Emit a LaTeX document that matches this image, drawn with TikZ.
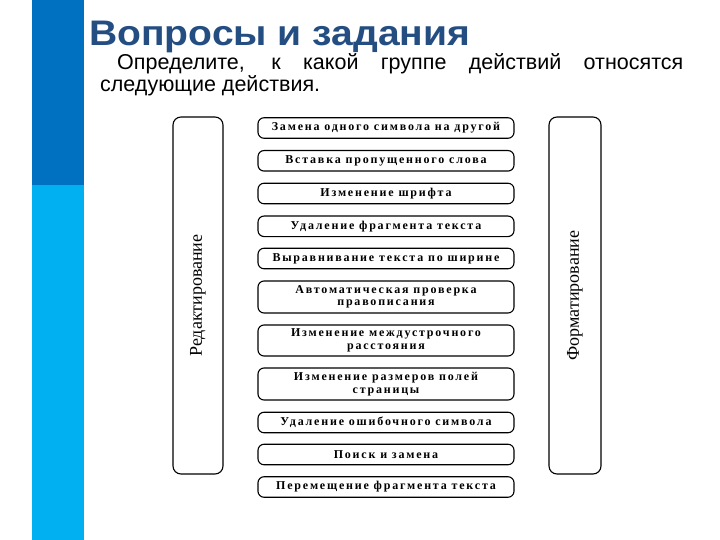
\documentclass[tikz,border=0pt]{standalone}
\usepackage{fontspec}
\setmainfont{Liberation Serif}
\newfontfamily\headfont{Liberation Sans}
\newfontfamily\actfont[LetterSpace=15]{Liberation Serif}
\usetikzlibrary{positioning}
\definecolor{barDark}{RGB}{0,112,192}
\definecolor{barLight}{RGB}{0,176,240}
\definecolor{titleBlue}{RGB}{36,78,130}

\begin{document}
\begin{tikzpicture}[x=1pt,y=-1pt]
	\tikzset{actbox/.style = {draw, rounded corners=6pt, line width=1.1pt, minimum width=256pt, inner sep=1pt, align=center, font=\actfont\bfseries\fontsize{12}{12.5}\selectfont}}
	\tikzset{groupbox/.style = {draw, rounded corners=8pt, line width=1.1pt, minimum width=357pt, inner sep=0pt, rotate=90, font=\fontsize{18}{20}\selectfont}}

	\useasboundingbox (0,0) rectangle (720,540);
	\fill[barDark] (32,0) rectangle (84,185);
	\fill[barLight] (32,185) rectangle (84,540);

	\node[anchor=base west, inner sep=0pt, xscale=1.1, transform shape, text=titleBlue, font=\headfont\bfseries\fontsize{35.5}{40}\selectfont] (title) at (89,46) {Вопросы и задания};
	\node[anchor=base west, inner sep=0pt, text width=583pt, align=justify, font=\headfont\fontsize{21.5}{22}\selectfont] (task) at (100,70)
		{\hspace*{17pt}Определите, к какой группе действий относятся следующие действия.};

	\node[groupbox, minimum height=50pt] (G_1) at (198,295.5) {Редактирование};
	\node[groupbox, minimum height=52pt] (G_2) at (575,295.5) {Форматирование};

	\node[actbox, minimum height=20.5pt] (A_1) at (386,128) {Замена одного символа на другой};
	\node[actbox, minimum height=20.5pt] (A_2) at (386,160.8) {Вставка пропущенного слова};
	\node[actbox, minimum height=20.5pt] (A_3) at (386,193.5) {Изменение шрифта};
	\node[actbox, minimum height=20.5pt] (A_4) at (386,226.3) {Удаление фрагмента текста};
	\node[actbox, minimum height=20.5pt] (A_5) at (386,258.5) {Выравнивание текста по ширине};
	\node[actbox, minimum height=32pt] (A_6) at (386,297) {Автоматическая проверка\\правописания};
	\node[actbox, minimum height=31pt] (A_7) at (386,340.5) {Изменение междустрочного\\расстояния};
	\node[actbox, minimum height=32pt] (A_8) at (386,384) {Изменение размеров полей\\страницы};
	\node[actbox, minimum height=20.5pt] (A_9) at (386,422.5) {Удаление ошибочного символа};
	\node[actbox, minimum height=20.5pt] (A_10) at (386,454.5) {Поиск и замена};
	\node[actbox, minimum height=20.5pt] (A_11) at (386,487) {Перемещение фрагмента текста};
\end{tikzpicture}
\end{document}
